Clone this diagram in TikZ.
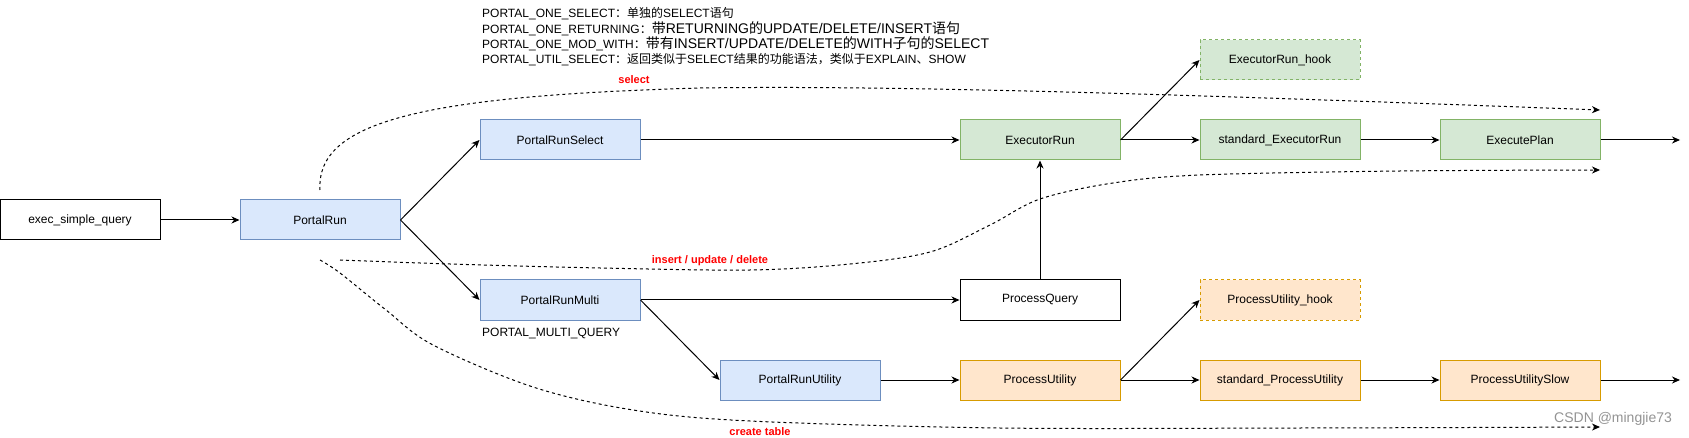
\documentclass[tikz,border=0pt]{standalone}
\usepackage{fontspec}
\setmainfont{Liberation Sans}
\newfontfamily\cjk{Noto Sans CJK SC}
\usetikzlibrary{arrows.meta}
\newcommand\zh[1]{{\cjk #1}}
\definecolor{bluefill}{HTML}{DAE8FC}
\definecolor{bluedraw}{HTML}{6C8EBF}
\definecolor{greenfill}{HTML}{D5E8D4}
\definecolor{greendraw}{HTML}{82B366}
\definecolor{orangefill}{HTML}{FFE6CC}
\definecolor{orangedraw}{HTML}{D79B00}
\tikzset{
  box/.style={draw=black, line width=1pt, minimum width=160pt, minimum height=40pt, inner sep=0pt, font=\fontsize{12}{14}\selectfont, text=black},
  bluebox/.style={box, fill=bluefill, draw=bluedraw},
  greenbox/.style={box, fill=greenfill, draw=greendraw},
  orangebox/.style={box, fill=orangefill, draw=orangedraw},
  hookbox/.style={dash pattern=on 3pt off 3pt},
  arr/.style={-{Stealth[length=8pt,width=7pt,inset=2.5pt]}, line width=1pt},
  dsh/.style={arr, dash pattern=on 3pt off 3pt},
  lbl/.style={text=red, font=\bfseries\fontsize{11}{13}\selectfont, inner sep=0pt},
  note/.style={anchor=west, inner sep=0pt, font=\fontsize{12}{14}\selectfont},
}
\begin{document}
\begin{tikzpicture}[x=1pt,y=-1pt]
\useasboundingbox (0,0) rectangle (1689,438);

% notes
\node[note] (t1) at (482,14) {PORTAL\_ONE\_SELECT\zh{：单独的}SELECT\zh{语句}};
\node[note] (t2) at (482,29) {PORTAL\_ONE\_RETURNING\zh{：}{\fontsize{14}{16}\selectfont\zh{带}RETURNING\zh{的}UPDATE/DELETE/INSERT\zh{语句}}};
\node[note] (t3) at (482,44) {PORTAL\_ONE\_MOD\_WITH\zh{：}{\fontsize{14}{16}\selectfont\zh{带有}INSERT/UPDATE/DELETE\zh{的}WITH\zh{子句的}SELECT}};
\node[note] (t4) at (482,60) {PORTAL\_UTIL\_SELECT\zh{：返回类似于}SELECT\zh{结果的功能语法，类似于}EXPLAIN\zh{、}SHOW};

% boxes
\node[box] (esq) at (80,220) {exec\_simple\_query};
\node[bluebox] (pr) at (320,220) {PortalRun};
\node[bluebox] (prs) at (560,140) {PortalRunSelect};
\node[bluebox] (prm) at (560,300) {PortalRunMulti};
\node[note] (mq) at (482,334) {PORTAL\_MULTI\_QUERY};
\node[bluebox] (pru) at (800,380) {PortalRunUtility};
\node[greenbox] (er) at (1040,140) {ExecutorRun};
\node[greenbox, hookbox] (erh) at (1280,60) {ExecutorRun\_hook};
\node[greenbox] (ser) at (1280,140) {standard\_ExecutorRun};
\node[greenbox] (ep) at (1520,140) {ExecutePlan};
\node[box] (pq) at (1040,300) {ProcessQuery};
\node[orangebox] (pu) at (1040,380) {ProcessUtility};
\node[orangebox, hookbox] (puh) at (1280,300) {ProcessUtility\_hook};
\node[orangebox] (spu) at (1280,380) {standard\_ProcessUtility};
\node[orangebox] (pus) at (1520,380) {ProcessUtilitySlow};
\coordinate (e1) at (1680,140);
\coordinate (e2) at (1680,380);

% solid connectors
\draw[arr] (esq.east) -- (pr.west);
\draw[arr] (pr.east) -- (prs.west);
\draw[arr] (pr.east) -- (prm.west);
\draw[arr] (prs.east) -- (er.west);
\draw[arr] (prm.east) -- (pq.west);
\draw[arr] (prm.east) -- (pru.west);
\draw[arr] (pru.east) -- (pu.west);
\draw[arr] (pq.north) -- (er.south);
\draw[arr] (er.east) -- (erh.west);
\draw[arr] (er.east) -- (ser.west);
\draw[arr] (ser.east) -- (ep.west);
\draw[arr] (ep.east) -- (e1);
\draw[arr] (pu.east) -- (puh.west);
\draw[arr] (pu.east) -- (spu.west);
\draw[arr] (spu.east) -- (pus.west);
\draw[arr] (pus.east) -- (e2);

% dashed curves
\coordinate (a0) at (320,190);
\coordinate (am) at (700,88);
\coordinate (a1) at (1600,110);
\draw[dsh] (a0) .. controls (316,122) and (420,96) .. (am) .. controls (900,85) and (1200,95) .. (a1);
\coordinate (b0) at (340,260);
\coordinate (b1) at (1600,170);
\draw[dsh] plot[smooth, tension=0.55] coordinates {(b0) (450,264) (600,268) (750,270) (850,264) (930,252) (990,225) (1040,199) (1113,183) (1200,175) (1400,171) (b1)};
\coordinate (c0) at (320,260);
\coordinate (c1) at (1600,427);
\draw[dsh] plot[smooth, tension=0.55] coordinates {(c0) (340,273) (386,310) (433,345) (533,387) (633,410) (750,421) (1000,428) (1300,428) (c1)};

\node[lbl] (lsel) at (634,80) {select};
\node[lbl] (lins) at (710,261) {insert / update / delete};
\node[lbl] (lct) at (760,432) {create table};

\node[anchor=west, inner sep=0pt, text=gray!85, font=\fontsize{14}{16}\selectfont] (wm) at (1554,419) {CSDN @mingjie73};
\end{tikzpicture}
\end{document}
